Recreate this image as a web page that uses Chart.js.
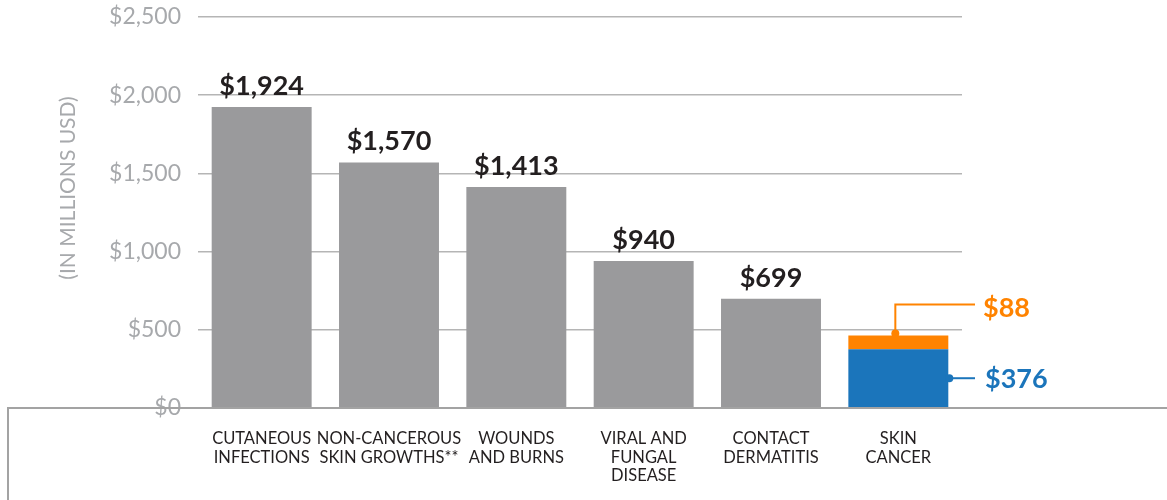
<!DOCTYPE html>
<html>
<head>
<meta charset="utf-8">
<script src="https://cdn.jsdelivr.net/npm/chart.js"></script>
<style>
  html, body { margin: 0; padding: 0; background: #fff; }
  #wrap { width: 1167px; height: 500px; position: relative; }
</style>
</head>
<body>
<div id="wrap"><canvas id="bar-chart"></canvas></div>
<script>
// categories (multi-line tick labels)
const categories = [
  ["CUTANEOUS", "INFECTIONS"],
  ["NON-CANCEROUS", "SKIN GROWTHS**"],
  ["WOUNDS", "AND BURNS"],
  ["VIRAL AND", "FUNGAL", "DISEASE"],
  ["CONTACT", "DERMATITIS"],
  ["SKIN", "CANCER"]
];

// cost in millions USD
const otherCosts = [1924, 1570, 1413, 940, 699, null];
const skinCancerLower = [null, null, null, null, null, 376];
const skinCancerUpper = [null, null, null, null, null, 88];

const yTicks = [0, 500, 1000, 1500, 2000, 2500];
const yTitle = "(IN MILLIONS USD)";

const GREY = "#9a9a9c";
const BLUE = "#1b75bb";
const ORANGE = "#ff8300";
const FONT = "Lato, 'Open Sans', sans-serif";

const fmt = v => "$" + v.toLocaleString("en-US");

// draws the $ values above the grey bars and the call-outs for skin cancer
const labelsPlugin = {
  id: "labels",
  afterDatasetsDraw(chart) {
    const ctx = chart.ctx;
    const area = chart.chartArea;
    ctx.save();

    // frame line under the chart and down the left side
    const y0 = chart.scales.y.getPixelForValue(0);
    ctx.strokeStyle = "#a3a3a3";
    ctx.lineWidth = 2;
    ctx.beginPath();
    ctx.moveTo(1167, y0);
    ctx.lineTo(8, y0);
    ctx.lineTo(8, 500);
    ctx.stroke();

    // value labels
    ctx.font = "bold 27px " + FONT;
    ctx.fillStyle = "#231f20";
    ctx.textAlign = "center";
    ctx.textBaseline = "alphabetic";
    chart.getDatasetMeta(0).data.forEach((bar, i) => {
      const v = otherCosts[i];
      if (v == null) return;
      ctx.fillText(fmt(v), bar.x, bar.y - 12);
    });

    // orange call-out
    const top = chart.getDatasetMeta(2).data[5];
    const lineX = area.right + 13;
    ctx.strokeStyle = ORANGE;
    ctx.fillStyle = ORANGE;
    ctx.lineWidth = 2;
    ctx.beginPath();
    ctx.moveTo(top.x - 3, top.y - 2);
    ctx.lineTo(top.x - 3, top.y - 31);
    ctx.lineTo(lineX, top.y - 31);
    ctx.stroke();
    ctx.beginPath();
    ctx.arc(top.x - 3, top.y - 2, 4, 0, Math.PI * 2);
    ctx.fill();
    ctx.textAlign = "left";
    ctx.textBaseline = "middle";
    ctx.fillText(fmt(skinCancerUpper[5]), lineX + 8, top.y - 27);

    // blue call-out
    const low = chart.getDatasetMeta(1).data[5];
    const midY = (low.y + low.base) / 2;
    const rightX = low.x + low.width / 2;
    ctx.strokeStyle = BLUE;
    ctx.fillStyle = BLUE;
    ctx.beginPath();
    ctx.moveTo(rightX, midY);
    ctx.lineTo(lineX, midY);
    ctx.stroke();
    ctx.beginPath();
    ctx.arc(rightX + 1, midY, 4, 0, Math.PI * 2);
    ctx.fill();
    ctx.fillText(fmt(skinCancerLower[5]), lineX + 10, midY + 1);

    // y axis title
    ctx.translate(68, 188);
    ctx.rotate(-Math.PI / 2);
    ctx.font = "21px " + FONT;
    ctx.fillStyle = "#a7a9ac";
    ctx.textAlign = "center";
    ctx.fillText(yTitle, 0, 0);

    ctx.restore();
  }
};

new Chart(document.getElementById("bar-chart"), {
  type: "bar",
  data: {
    labels: categories,
    datasets: [
      { label: "Cost", data: otherCosts, backgroundColor: GREY },
      { label: "Skin cancer (lower)", data: skinCancerLower, backgroundColor: BLUE },
      { label: "Skin cancer (upper)", data: skinCancerUpper, backgroundColor: ORANGE }
    ]
  },
  options: {
    responsive: true,
    maintainAspectRatio: false,
    animation: false,
    layout: { padding: { left: 0, right: 205, top: 17, bottom: 0 } },
    datasets: {
      bar: { categoryPercentage: 1, barPercentage: 0.785 }
    },
    plugins: {
      legend: { display: false },
      tooltip: { enabled: false }
    },
    scales: {
      x: {
        stacked: true,
        grid: { display: false },
        border: { display: false },
        ticks: {
          autoSkip: false,
          maxRotation: 0,
          padding: 14,
          color: "#231f20",
          font: { family: FONT, size: 16.5, lineHeight: 1.1 }
        },
        afterFit(scale) { scale.height = 92; }
      },
      y: {
        stacked: true,
        min: 0,
        max: 2500,
        afterBuildTicks(scale) { scale.ticks = yTicks.map(v => ({ value: v })); },
        grid: { color: "#b5b5b5", lineWidth: 1.5, drawTicks: false },
        border: { display: false },
        ticks: {
          padding: 17,
          color: "#a7a9ac",
          font: { family: FONT, size: 23 },
          callback: v => fmt(v)
        },
        afterFit(scale) {
          scale.width = 198;
          scale.paddingTop = 0;
          scale.paddingBottom = 0;
        }
      }
    }
  },
  plugins: [labelsPlugin]
});
</script>
</body>
</html>
